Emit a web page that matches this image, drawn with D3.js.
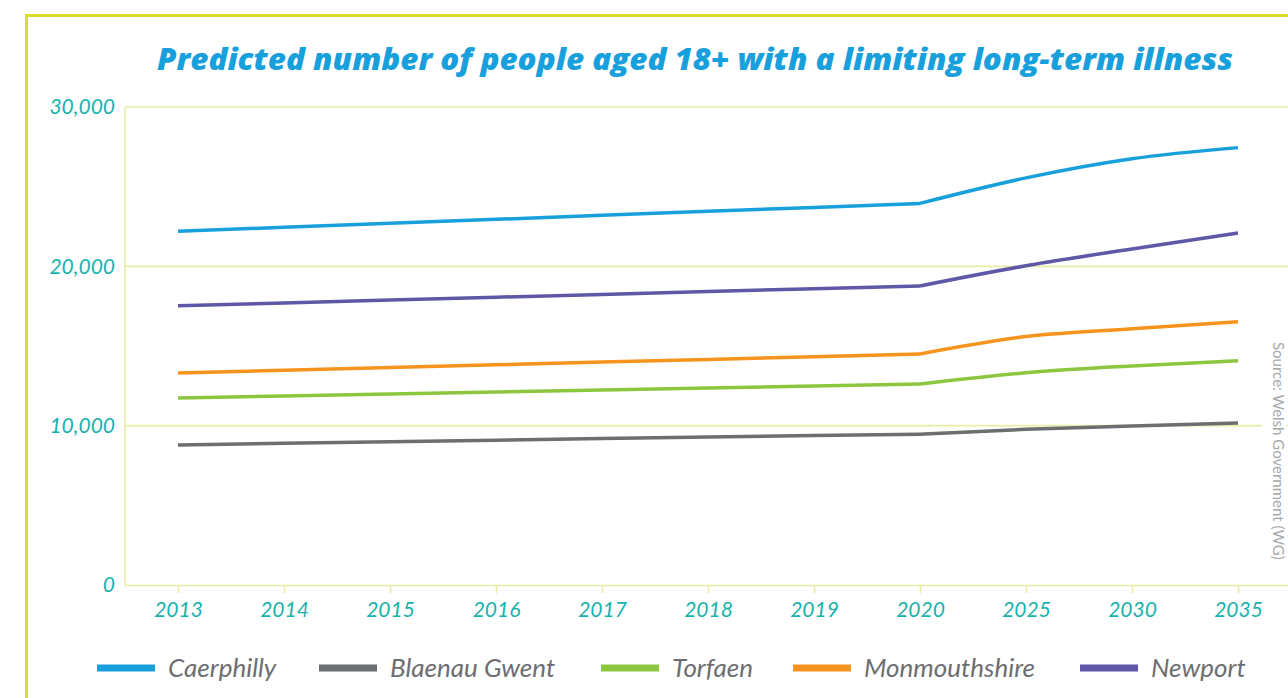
<!DOCTYPE html>
<html>
<head>
<meta charset="utf-8">
<script src="https://cdn.jsdelivr.net/npm/d3@7"></script>
<style>
  html, body { margin: 0; padding: 0; background: #fff; }
  svg { display: block; }
</style>
</head>
<body>
<svg id="chart" width="1288" height="698"></svg>
<script>
// Years shown along the x axis (annual to 2020, then five-yearly)
const years = ["2013", "2014", "2015", "2016", "2017", "2018", "2019", "2020", "2025", "2030", "2035"];

// Predicted number of people aged 18+ with a limiting long-term illness
const caerphilly    = [22200, 22450, 22700, 22950, 23200, 23450, 23700, 23950, 25550, 26750, 27450];
const blaenauGwent  = [8790, 8890, 8990, 9090, 9190, 9290, 9380, 9460, 9770, 9980, 10170];
const torfaen       = [11740, 11860, 11990, 12110, 12240, 12370, 12490, 12620, 13320, 13750, 14070];
const monmouthshire = [13310, 13480, 13650, 13820, 13990, 14160, 14330, 14500, 15590, 16080, 16520];
const newport       = [17520, 17700, 17880, 18060, 18240, 18420, 18600, 18770, 20040, 21090, 22090];

const yTicks = [0, 10000, 20000, 30000];
const seriesNames = ["Caerphilly", "Blaenau Gwent", "Torfaen", "Monmouthshire", "Newport"];
const seriesColors = ["#17a0db", "#6d6e71", "#8cc63f", "#f7941d", "#5e58a6"];
const seriesValues = [caerphilly, blaenauGwent, torfaen, monmouthshire, newport];

const svg = d3.select("#chart");
const teal = "#17b3ab";
const gridColor = "#e9eda4";
const font = "Lato, 'Open Sans', sans-serif";

// Outer frame
svg.append("path")
  .attr("d", "M26.5,698 L26.5,15.5 L1288,15.5")
  .attr("fill", "none")
  .attr("stroke", "#d8df26")
  .attr("stroke-width", 3);

// Title
svg.append("text")
  .attr("x", 157)
  .attr("y", 70)
  .attr("textLength", 1076)
  .attr("lengthAdjust", "spacingAndGlyphs")
  .attr("font-family", "'Open Sans', Lato, sans-serif")
  .attr("font-weight", 800)
  .attr("font-style", "italic")
  .attr("font-size", 30)
  .attr("fill", "#17a0db")
  .text("Predicted number of people aged 18+ with a limiting long-term illness");

const plotLeft = 125, plotBottom = 585, plotTop = 107;

const x = d3.scalePoint()
  .domain(years)
  .range([plotLeft, plotLeft + 11 * 106])
  .padding(0.5);

const y = d3.scaleLinear()
  .domain([0, 30000])
  .range([plotBottom, plotTop]);

// Horizontal gridlines
svg.append("g")
  .selectAll("line")
  .data(yTicks.filter(d => d > 0))
  .join("line")
  .attr("x1", plotLeft)
  .attr("x2", 1288)
  .attr("y1", d => y(d))
  .attr("y2", d => y(d))
  .attr("stroke", gridColor)
  .attr("stroke-width", 1.6);

// Left axis line
svg.append("line")
  .attr("x1", plotLeft).attr("x2", plotLeft)
  .attr("y1", plotTop).attr("y2", plotBottom)
  .attr("stroke", gridColor)
  .attr("stroke-width", 1.6);

// Y axis labels
const yAxis = d3.axisLeft(y)
  .tickValues(yTicks)
  .tickSize(0)
  .tickPadding(10)
  .tickFormat(d3.format(","));
const gy = svg.append("g")
  .attr("transform", `translate(${plotLeft},0)`)
  .call(yAxis);
gy.select(".domain").remove();
gy.selectAll("text")
  .attr("font-family", font)
  .attr("font-style", "italic")
  .attr("font-size", 21)
  .attr("fill", teal);

// X axis with small ticks
const xAxis = d3.axisBottom(x)
  .tickSize(8)
  .tickPadding(9);
const gx = svg.append("g")
  .attr("transform", `translate(0,${plotBottom})`)
  .call(xAxis);
gx.select(".domain")
  .attr("d", `M${plotLeft},0.5H1288`)
  .attr("stroke", gridColor)
  .attr("stroke-width", 1.6);
gx.selectAll(".tick line")
  .attr("stroke", gridColor)
  .attr("stroke-width", 1.6);
gx.selectAll("text")
  .attr("font-family", font)
  .attr("font-style", "italic")
  .attr("font-size", 21)
  .attr("fill", teal);

// Series lines: straight annual run to 2020, smoothed five-year projections after
const split = years.indexOf("2020");
const lineAnnual = d3.line()
  .x(d => x(d.year))
  .y(d => y(d.value))
  .curve(d3.curveLinear);
const lineProjected = d3.line()
  .x(d => x(d.year))
  .y(d => y(d.value))
  .curve(d3.curveMonotoneX);

const seriesG = svg.append("g")
  .selectAll("g")
  .data(seriesValues)
  .join("g")
  .attr("fill", "none")
  .attr("stroke", (d, i) => seriesColors[i])
  .attr("stroke-width", 3.5)
  .attr("stroke-linejoin", "round");
seriesG.append("path")
  .attr("d", vals => lineAnnual(vals.slice(0, split + 1).map((v, i) => ({ year: years[i], value: v }))));
seriesG.append("path")
  .attr("d", vals => lineProjected(vals.slice(split).map((v, i) => ({ year: years[split + i], value: v }))));

// Source note, rotated along the right edge
const src = svg.append("g").attr("transform", "translate(1273,342) rotate(90)");
src.append("rect")
  .attr("x", -2).attr("y", -13)
  .attr("width", 226).attr("height", 24)
  .attr("fill", "#fff");
src.append("text")
  .attr("x", 0).attr("y", 0)
  .attr("font-family", font)
  .attr("font-size", 15)
  .attr("fill", "#a7a9ac")
  .text("Source: Welsh Government (WG)");

// Legend
const legendX = [97, 319, 601, 793, 1080];
const legend = svg.append("g")
  .selectAll("g")
  .data(seriesNames)
  .join("g")
  .attr("transform", (d, i) => `translate(${legendX[i]},668)`);
legend.append("line")
  .attr("x1", 0).attr("x2", 58)
  .attr("y1", 0).attr("y2", 0)
  .attr("stroke", (d, i) => seriesColors[i])
  .attr("stroke-width", 7);
legend.append("text")
  .attr("x", 71)
  .attr("y", 9)
  .attr("font-family", font)
  .attr("font-style", "italic")
  .attr("font-size", 26)
  .attr("fill", "#6d6e71")
  .text(d => d);
</script>
</body>
</html>
